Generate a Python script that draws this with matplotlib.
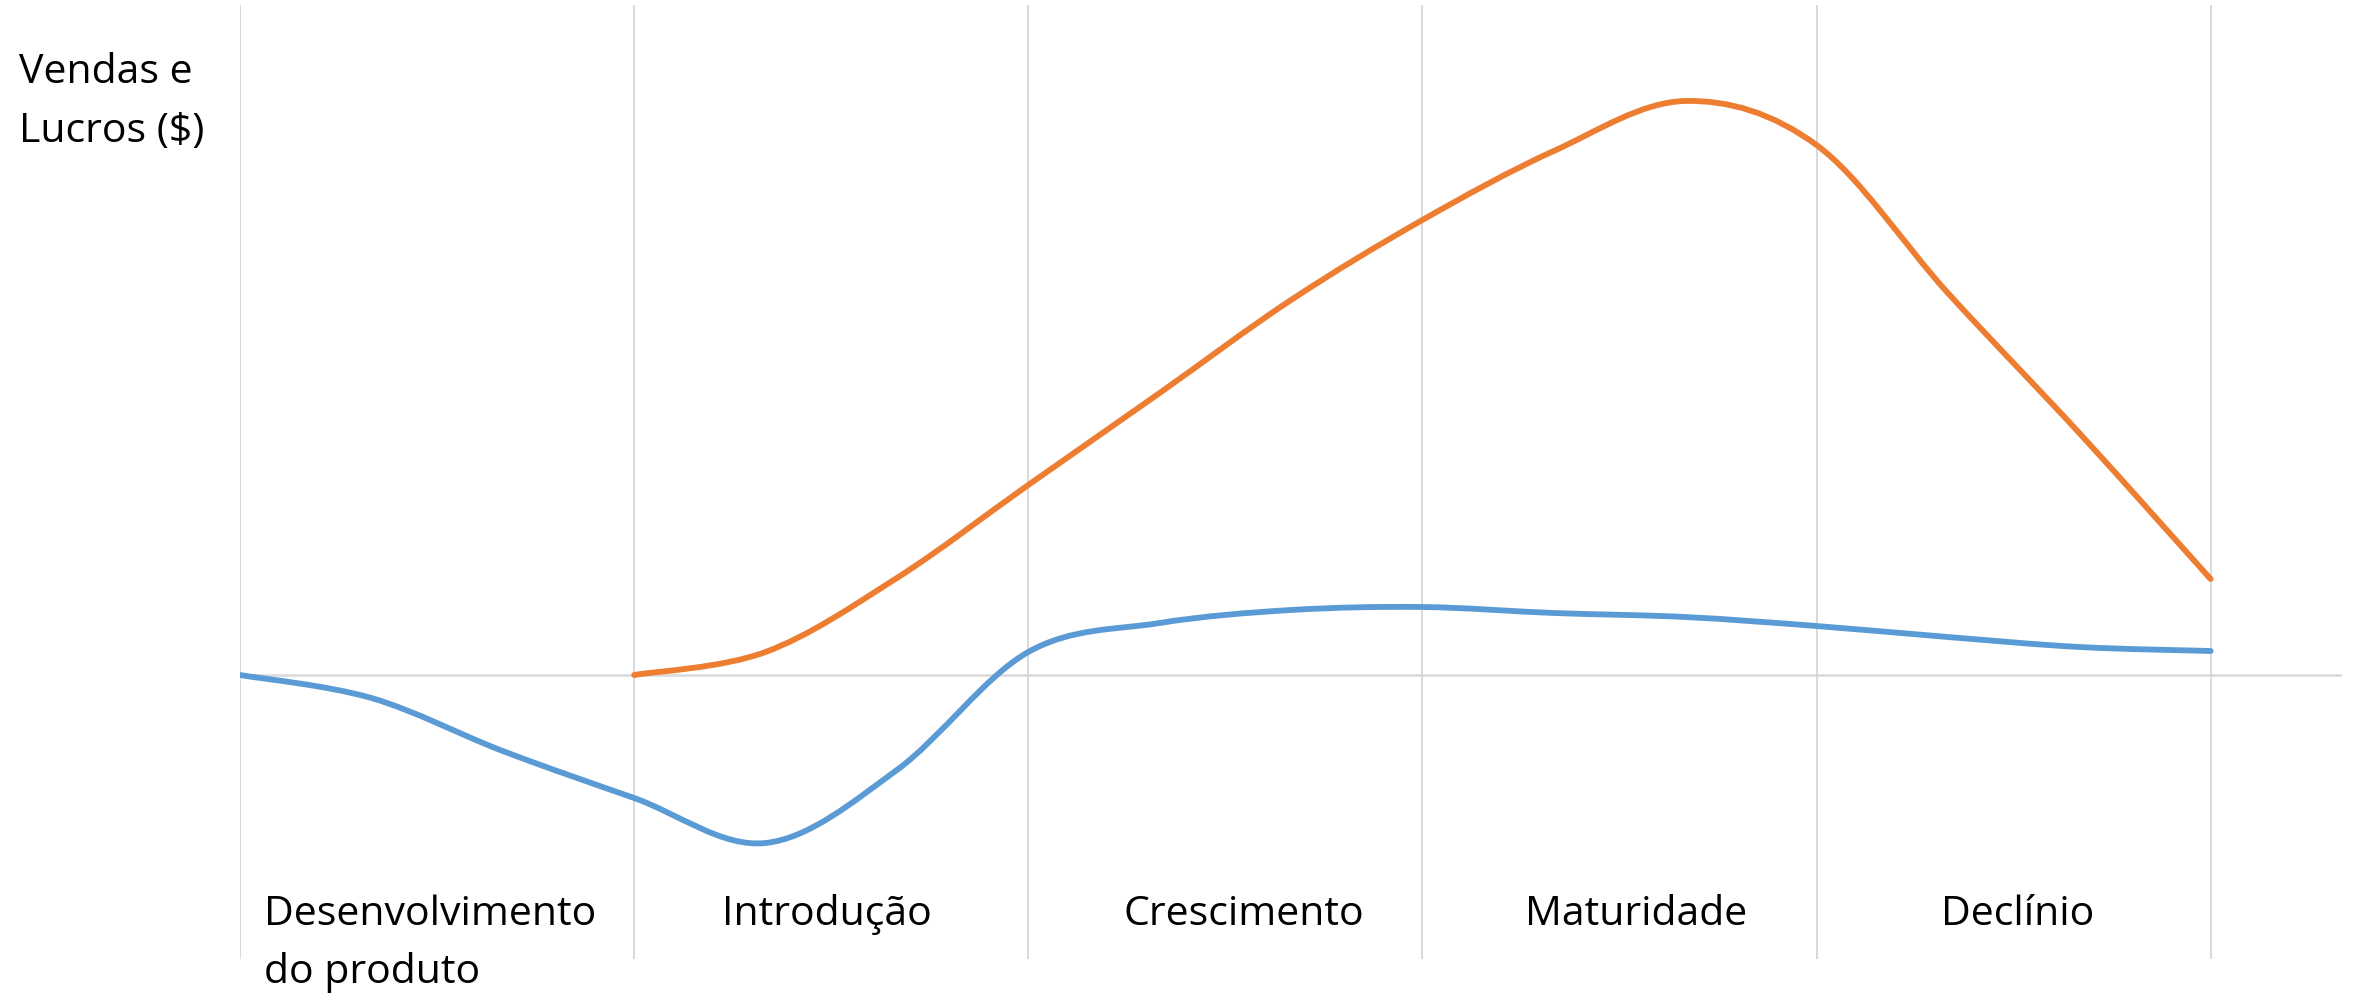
import numpy as np
import matplotlib
matplotlib.use("Agg")
import matplotlib.pyplot as plt
from matplotlib.path import Path
from matplotlib.patches import PathPatch

# -----------------------------
# Data
# -----------------------------
n_points = 17  # category slots on the x axis, 3 per stage
stages = ["Desenvolvimento\ndo produto", "Introdução", "Crescimento", "Maturidade", "Declínio"]
y_label = ["Vendas e", "Lucros ($)"]

# lucros (blue) start at slot 0, vendas (orange) start at slot 3
lucros_start = 0
lucros = [0, -23, -76, -123, -168, -95, 23, 52, 65, 68, 62, 58, 49, 38, 28, 24]
vendas_start = 3
vendas = [0, 23, 97, 190, 282, 375, 455, 524, 574, 530, 382, 242, 96]

BLUE = "#5B9BD5"
ORANGE = "#ED7D31"
GRID = "#D9D9D9"

plt.rcParams["font.family"] = ["Open Sans", "DejaVu Sans"]


def smooth_path(xs, ys):
    # excel-like smoothed line: cubic bezier through every point
    pts = np.column_stack([xs, ys]).astype(float)
    n = len(pts)
    verts = [pts[0]]
    codes = [Path.MOVETO]
    for i in range(n - 1):
        p0 = pts[max(i - 1, 0)]
        p1 = pts[i]
        p2 = pts[i + 1]
        p3 = pts[min(i + 2, n - 1)]
        verts += [p1 + (p2 - p0) / 6, p2 - (p3 - p1) / 6, p2]
        codes += [Path.CURVE4] * 3
    return Path(verts, codes)


# -----------------------------
# Figure
# -----------------------------
W, H = 2357, 994
fig = plt.figure(figsize=(W / 100, H / 100), dpi=100)
ax = fig.add_axes([240 / W, 1 - 959 / H, (2342 - 240) / W, (959 - 5) / H])
ax.set_xlim(0, n_points - 1)
ax.set_ylim(-284, 670)
ax.axis("off")

# category gridlines every stage + zero line
for k in range(0, n_points - 1, 3):
    ax.axvline(k, color=GRID, lw=1.4, zorder=1)
ax.axhline(0, color=GRID, lw=1.8, zorder=1)

# series
for start, vals, col in [(lucros_start, lucros, BLUE), (vendas_start, vendas, ORANGE)]:
    xs = np.arange(start, start + len(vals))
    ax.add_patch(PathPatch(smooth_path(xs, vals), fill=False, edgecolor=col,
                           lw=4.2, capstyle="round", joinstyle="round", zorder=3))

# stage labels
fs = 29.5
nudge = [0, -0.03, 0.14, 0.13, 0.03]
for i, name in enumerate(stages):
    xc = 1.5 + 3 * i + nudge[i]
    lines = name.split("\n")
    if len(lines) == 1:
        ax.text(xc, -250, lines[0], ha="center", va="baseline", fontsize=fs)
    else:
        x_left = 0.18
        for j, ln in enumerate(lines):
            ax.text(x_left, -250 - 58 * j, ln, ha="left", va="baseline",
                    fontsize=fs, clip_on=False)

# y axis title
for j, ln in enumerate(y_label):
    fig.text(19 / W, 1 - (83 + 59 * j) / H, ln, ha="left", va="baseline", fontsize=fs)

fig.savefig("out.png", dpi=100, facecolor="white")
